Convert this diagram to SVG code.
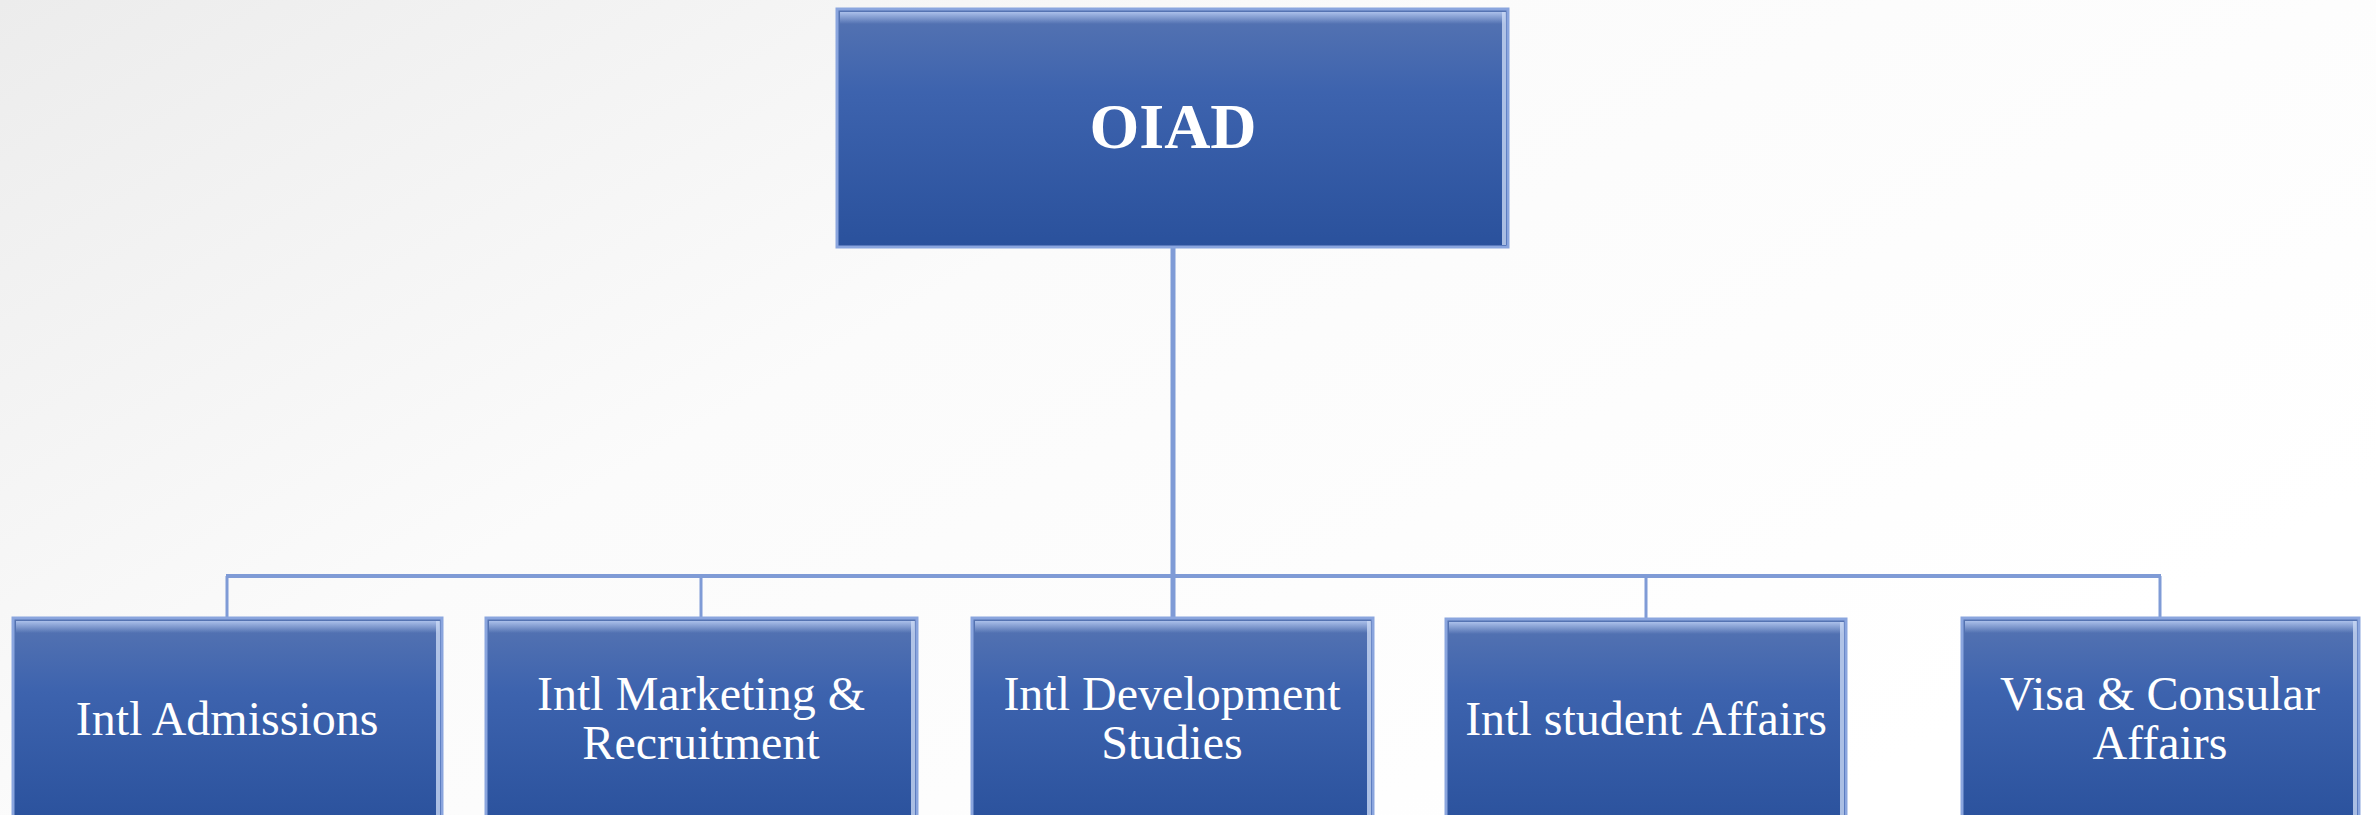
<svg xmlns="http://www.w3.org/2000/svg" width="2376" height="815" viewBox="0 0 2376 815">
<defs>
<linearGradient id="bg" x1="0" y1="0" x2="1" y2="0.6">
<stop offset="0" stop-color="#ececec"/>
<stop offset="0.45" stop-color="#fbfbfb"/>
<stop offset="1" stop-color="#ffffff"/>
</linearGradient>
<linearGradient id="box" x1="0" y1="0" x2="0" y2="1">
<stop offset="0" stop-color="#5674b2"/>
<stop offset="0.35" stop-color="#3d63ae"/>
<stop offset="1" stop-color="#2a519c"/>
</linearGradient>
<linearGradient id="hl" x1="0" y1="0" x2="0" y2="1">
<stop offset="0" stop-color="#b4c8f0" stop-opacity="0.9"/>
<stop offset="1" stop-color="#b4c8f0" stop-opacity="0"/>
</linearGradient>
<style>
.conn{stroke:#7f9bd6;stroke-width:3;fill:none}
.main{stroke:#7f9bd6;stroke-width:5;fill:none}
.bar{stroke:#7f9bd6;stroke-width:4;fill:none}
.b{fill:url(#box);stroke:#8aa5de;stroke-width:3}
.h{fill:url(#hl)}
.r{fill:#c9d8f4;opacity:0.8}
.t{font-family:"Liberation Serif","Times New Roman",serif;fill:#ffffff;text-anchor:middle;font-size:48px}
.tt{font-family:"Liberation Serif","Times New Roman",serif;fill:#ffffff;text-anchor:middle;font-size:64px;font-weight:bold}
</style>
</defs>
<rect width="2376" height="815" fill="url(#bg)"/>
<g id="connectors">
<polyline class="conn" points="227,618 227,576"/>
<polyline class="conn" points="2160,576 2160,618"/>
<line class="bar" x1="226" y1="576" x2="2161" y2="576"/>
<line class="conn" x1="701" y1="576" x2="701" y2="618"/>
<line class="conn" x1="1646" y1="576" x2="1646" y2="618"/>
<line class="main" x1="1173" y1="247" x2="1173" y2="618"/>
</g>
<g id="oiad">
<rect class="b" x="837" y="9" width="671" height="238"/>
<rect class="h" x="840" y="12" width="665" height="12"/>
<rect class="r" x="1502" y="12" width="4" height="233"/>
<text class="tt" x="1173" y="148">OIAD</text>
</g>
<g id="admissions">
<rect class="b" x="13" y="618" width="429" height="210"/>
<rect class="h" x="16" y="621" width="423" height="12"/>
<rect class="r" x="436" y="621" width="4" height="200"/>
<text class="t" x="227" y="735">Intl Admissions</text>
</g>
<g id="marketing">
<rect class="b" x="486" y="618" width="431" height="210"/>
<rect class="h" x="489" y="621" width="425" height="12"/>
<rect class="r" x="911" y="621" width="4" height="200"/>
<text class="t" x="701" y="710">Intl Marketing &amp;</text>
<text class="t" x="701" y="759">Recruitment</text>
</g>
<g id="development">
<rect class="b" x="972" y="618" width="401" height="210"/>
<rect class="h" x="975" y="621" width="395" height="12"/>
<rect class="r" x="1367" y="621" width="4" height="200"/>
<text class="t" x="1172" y="710">Intl Development</text>
<text class="t" x="1172" y="759">Studies</text>
</g>
<g id="student">
<rect class="b" x="1446" y="619" width="400" height="210"/>
<rect class="h" x="1449" y="622" width="394" height="12"/>
<rect class="r" x="1840" y="622" width="4" height="200"/>
<text class="t" x="1646" y="735">Intl student Affairs</text>
</g>
<g id="visa">
<rect class="b" x="1962" y="618" width="397" height="210"/>
<rect class="h" x="1965" y="621" width="391" height="12"/>
<rect class="r" x="2353" y="621" width="4" height="200"/>
<text class="t" x="2160" y="710">Visa &amp; Consular</text>
<text class="t" x="2160" y="759">Affairs</text>
</g>
</svg>
